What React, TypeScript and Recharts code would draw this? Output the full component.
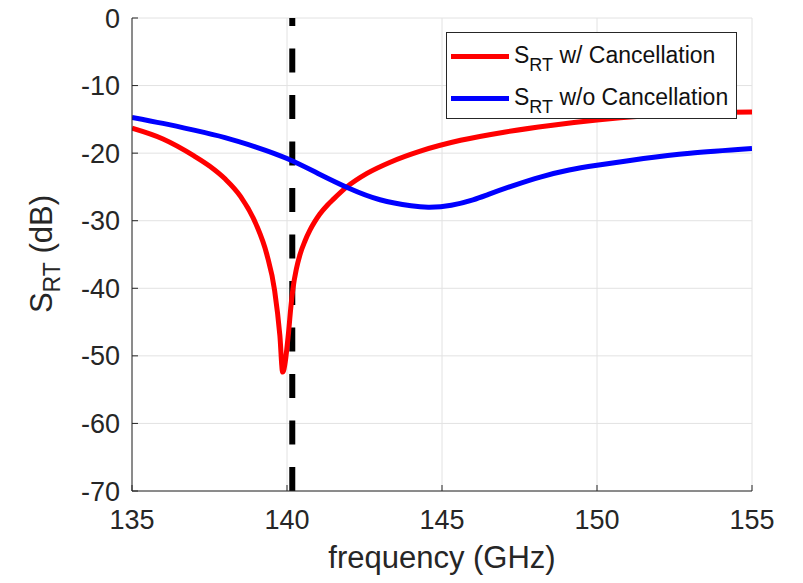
import { LineChart, Line, XAxis, YAxis, CartesianGrid, Legend, ReferenceLine } from 'recharts';

// S_RT with cancellation (frequency GHz, dB)
const redFreq = [135, 136, 137, 137.5, 138, 138.5, 139, 139.35, 139.6, 139.77, 139.86, 140.04, 140.12, 140.2, 140.3, 140.42, 140.58, 140.74, 140.9, 141.06, 141.3, 141.5, 141.93, 142.58, 143.35, 144.3, 145.6, 147, 148.5, 150, 151.5, 153, 155];
const redVals = [-16.3, -17.9, -20.4, -21.9, -23.8, -26.4, -30.5, -35.0, -40.3, -47.0, -52.4, -47.0, -43.0, -39.8, -37.2, -35.0, -33.0, -31.4, -30.1, -29.0, -27.7, -26.8, -25.0, -23.0, -21.3, -19.7, -18.1, -16.9, -15.9, -15.1, -14.5, -14.1, -13.9];

// S_RT without cancellation
const blueFreq = [135, 136, 137, 138, 139, 140, 141, 142, 143, 144, 144.6, 145.3, 146, 146.5, 147.3, 148.2, 149.1, 150, 151.5, 153, 155];
const blueVals = [-14.7, -15.6, -16.6, -17.7, -19.1, -20.8, -23.0, -25.2, -26.9, -27.8, -28.0, -27.7, -26.9, -26.1, -24.8, -23.5, -22.5, -21.8, -20.8, -20.0, -19.3];

const seriesNames = ['w/ Cancellation', 'w/o Cancellation'];
const xTicks = [135, 140, 145, 150, 155];
const yTicks = [-70, -60, -50, -40, -30, -20, -10, 0];
const markerFreq = 140.17;

const redData = redFreq.map((f, i) => ({ f, v: redVals[i] }));
const blueData = blueFreq.map((f, i) => ({ f, v: blueVals[i] }));

const FONT = 'Arial, "Liberation Sans", Helvetica, sans-serif';
const TEXT = '#262626';

function YLabel() {
  return (
    <text
      x={52}
      y={254}
      transform="rotate(-90, 52, 254)"
      textAnchor="middle"
      fontFamily={FONT}
      fontSize={31}
      fill={TEXT}
    >
      S
      <tspan fontSize={23} dy={8}>RT</tspan>
      <tspan dy={-8}> (dB)</tspan>
    </text>
  );
}

function LegendBox(props: any) {
  const payload = props.payload || [];
  return (
    <div
      style={{
        width: 289,
        height: 85,
        border: '1px solid #262626',
        background: '#fff',
        position: 'relative',
        fontFamily: FONT,
        color: '#111',
      }}
    >
      {payload.map((entry: any, i: number) => (
        <div key={entry.value} style={{ position: 'absolute', left: 4, top: 10 + i * 42, height: 30, width: 285 }}>
          <span
            style={{ position: 'absolute', left: 0, top: 11, width: 58, height: 5, background: entry.color }}
          />
          <span style={{ position: 'absolute', left: 63, top: 0, fontSize: 23, whiteSpace: 'nowrap', lineHeight: '24px' }}>
            S
            <span style={{ fontSize: 18, position: 'relative', top: 8 }}>RT</span> {entry.value}
          </span>
        </div>
      ))}
    </div>
  );
}

export default function App() {
  return (
    <div style={{ position: 'absolute', left: 0, top: 0, background: '#fff' }}>
      <LineChart width={803} height={583} margin={{ top: 18, right: 51, left: 0, bottom: 0 }}>
        <CartesianGrid stroke="#e2e2e2" strokeWidth={1} />
        <XAxis
          dataKey="f"
          type="number"
          domain={[135, 155]}
          ticks={xTicks}
          height={92}
          allowDataOverflow
          stroke="#262626"
          tickSize={-6}
          tickMargin={25}
          tick={{ fill: TEXT, fontSize: 27, fontFamily: FONT }}
          label={{ value: 'frequency (GHz)', position: 'insideBottom', offset: 15, fill: TEXT, fontSize: 31, fontFamily: FONT }}
        />
        <XAxis xAxisId="top" orientation="top" type="number" domain={[135, 155]} height={0} tick={false} tickLine={false} stroke="#8a8a8a" />
        <YAxis
          type="number"
          domain={[-70, 0]}
          ticks={yTicks}
          width={132}
          allowDataOverflow
          stroke="#262626"
          tickSize={-6}
          tickMargin={18}
          tick={{ fill: TEXT, fontSize: 27, fontFamily: FONT }}
          label={<YLabel />}
        />
        <YAxis yAxisId="right" orientation="right" type="number" domain={[-70, 0]} width={0} tick={false} tickLine={false} stroke="#8a8a8a" />
        <ReferenceLine x={markerFreq} stroke="#000" strokeWidth={6} strokeDasharray="24 22.5" />
        <Line
          data={redData}
          dataKey="v"
          name={seriesNames[0]}
          type="monotone"
          stroke="#ff0000"
          strokeWidth={5}
          dot={false}
          isAnimationActive={false}
        />
        <Line
          data={blueData}
          dataKey="v"
          name={seriesNames[1]}
          type="natural"
          stroke="#0000ff"
          strokeWidth={5}
          dot={false}
          isAnimationActive={false}
        />
        <Legend
          layout="horizontal"
          verticalAlign="middle"
          align="center"
          content={<LegendBox />}
          wrapperStyle={{ left: 446, top: 32, width: 291, height: 87 }}
        />
      </LineChart>
    </div>
  );
}
